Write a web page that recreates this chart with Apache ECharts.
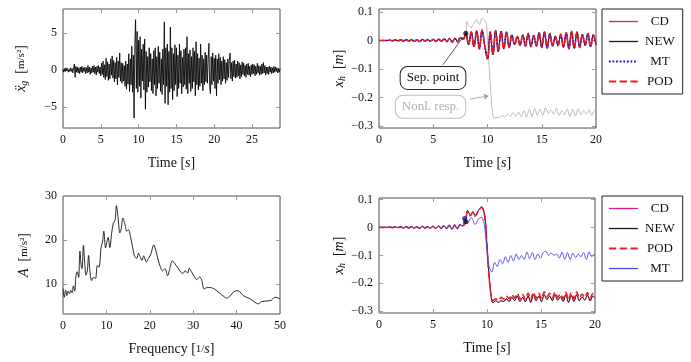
<!DOCTYPE html>
<html>
<head>
<meta charset="utf-8">
<script src="https://cdn.jsdelivr.net/npm/echarts@6/dist/echarts.min.js"></script>
<style>
  html, body { margin: 0; padding: 0; background: #fff; }
  #chart { width: 691px; height: 362px; }
</style>
</head>
<body>
<div id="chart"></div>
<script>
const FONT = "Liberation Serif";

// ground acceleration record, one value every 0.1 s
const ACC_DT = 0.1;
const accValues = [
  0.1,-0.3,0.2,-0.2,0.3,-0.1,0.2,-0.3,0.1,-0.2,
  0.3,-0.2,0.2,-0.4,0.3,0.8,-1.0,0.5,-0.3,0.4,
  -0.4,0.3,-0.5,0.4,-0.3,0.5,-0.4,0.3,-0.2,0.4,
  -0.5,0.3,-0.4,0.6,-0.3,0.4,-0.6,0.3,-0.4,0.5,
  -0.3,0.6,-0.5,0.4,-0.7,0.5,-0.3,0.6,-0.5,0.4,
  -0.8,0.9,-0.6,1.2,-1.0,0.7,-1.3,1.6,-0.9,1.1,
  -1.4,0.8,-1.2,1.5,-0.7,1.9,-1.1,1.3,-1.6,1.0,
  -1.2,1.7,-2.0,1.2,-1.0,2.3,-1.5,1.0,-1.8,0.9,
  -1.5,0.6,-2.2,1.2,-2.6,0.8,-1.9,2.2,-2.9,1.5,
  -2.0,3.2,-3.0,2.0,-6.5,3.6,6.8,-2.5,5.2,-3.0,
  4.0,-2.2,4.5,-3.8,2.8,-1.5,3.5,-2.7,4.2,-5.3,
  2.5,-3.0,1.8,-2.3,3.0,-1.6,2.2,-2.8,1.5,-3.2,
  2.6,-2.0,3.0,-3.5,1.8,-2.5,3.2,-1.8,2.4,-2.9,
  1.5,-3.3,2.8,-2.0,6.5,-4.5,3.0,-2.2,3.5,-4.7,
  2.5,-3.0,5.8,-2.5,3.0,-4.0,2.2,-2.8,3.4,-2.0,
  3.0,-3.6,2.0,-2.5,3.5,-1.8,2.6,-3.2,1.7,-2.3,
  2.8,-2.0,3.0,-2.6,4.5,-3.2,2.2,-1.8,2.7,-2.9,
  1.8,-2.5,3.0,-1.6,2.5,-3.5,3.8,-2.0,2.2,-2.7,
  1.6,-2.2,3.5,-1.8,2.0,-2.8,1.5,-2.0,2.4,-1.6,
  2.0,-1.8,1.5,3.6,-2.2,-3.2,1.8,-2.0,2.3,-1.5,
  1.6,-2.5,2.0,-3.5,1.5,-1.8,2.2,-1.3,1.7,-2.0,
  1.2,-1.5,1.8,-1.2,1.4,-1.8,1.0,-1.4,1.5,-1.0,
  1.3,2.3,-1.2,1.0,-1.5,1.2,-0.9,1.3,-1.1,0.8,
  -1.0,1.2,-0.8,1.0,-1.2,0.7,-0.9,1.1,-0.6,0.9,
  -0.8,0.6,-1.0,0.8,-0.6,0.9,-0.7,0.5,-0.9,0.7,
  -0.6,0.8,-0.5,0.7,-0.8,0.5,-0.6,0.9,-0.4,0.6,
  -0.7,0.5,-0.6,0.8,-0.5,1.0,-0.4,0.6,-0.7,0.4,
  -0.5,0.4,-0.6,0.5,-0.3,0.4,-0.5,0.3,-0.4,0.5,
  -0.3,0.4,-0.2,0.3,-0.4,0.2,-0.3,0.2
];

// Fourier amplitude spectrum
const specFreq = [0,0.3,0.6,0.9,1.2,1.5,1.8,2.1,2.4,2.7,3.0,3.3,3.6,3.9,4.2,4.4,4.7,5.0,5.3,5.6,
  5.9,6.2,6.6,7.0,7.5,7.9,8.3,8.8,9.1,9.4,9.8,10.1,10.4,10.8,11.2,11.6,12.0,12.3,12.7,13.1,
  13.4,13.8,14.3,14.7,15.1,15.6,16.0,16.5,17.0,17.4,17.8,18.2,18.6,19.2,19.7,20.3,20.9,21.4,21.9,22.4,
  22.9,23.5,24.1,24.6,25.2,25.8,26.4,27.0,27.6,28.2,28.7,29.1,29.6,30.2,30.8,31.5,32.0,32.5,33.2,34.0,
  35.0,36.0,37.0,37.7,38.5,39.3,40.0,40.7,41.5,42.3,43.2,44.0,45.0,45.7,46.5,47.3,48.0,48.8,49.4,50.0];
const specAmp = [9.0,7.0,8.6,7.4,8.4,7.8,8.6,8.0,9.6,8.4,12.0,12.8,11.5,17.5,14.0,13.5,18.8,15.0,12.0,13.0,
  16.5,13.0,10.8,11.5,11.3,14.2,13.8,18.5,19.5,22.0,18.2,19.5,20.6,18.3,21.5,23.8,24.5,27.8,25.0,21.6,
  22.5,25.0,23.5,22.0,22.3,20.5,18.5,16.3,15.8,17.0,16.2,15.4,16.4,15.0,15.8,17.0,18.9,17.6,15.6,14.0,
  13.0,13.5,11.9,13.5,15.3,14.6,13.8,12.9,12.4,13.0,12.5,13.6,12.8,11.8,11.0,11.6,10.8,8.9,9.2,9.2,
  8.8,8.0,7.2,6.8,7.3,8.2,8.5,8.3,7.4,7.0,6.6,6.0,5.5,6.0,6.1,6.2,6.3,7.0,6.9,6.6];

// linear responses (top right), one value every 0.25 s
const RESP_DT = 0.25;
const linTop = [
  0,0,0,0,0.001,-0.001,0.002,-0.001,
  0.002,-0.002,0.003,-0.002,0.003,-0.003,0.002,-0.004,
  0.004,-0.002,0.003,-0.003,0.004,-0.004,0.005,-0.003,
  0.006,-0.004,0.007,-0.006,0.008,-0.005,0.010,0.004,
  0.025,-0.015,0.030,-0.022,0.034,-0.030,0.036,-0.020,
  -0.065,0.030,-0.050,0.035,-0.040,0.033,-0.030,0.030,
  -0.025,0.020,-0.015,0.015,-0.018,0.020,-0.020,0.025,
  -0.022,0.018,-0.020,0.028,-0.025,0.030,-0.028,0.025,
  -0.020,0.015,-0.018,0.022,-0.025,0.028,-0.030,0.032,
  -0.028,0.030,-0.025,0.022,-0.018,0.025,-0.022,0.020,
  -0.015
];
const mtTop = [
  0,0,0,0,0.001,-0.001,0.002,-0.001,
  0.002,-0.002,0.003,-0.002,0.003,-0.003,0.002,-0.003,
  0.003,-0.002,0.003,-0.003,0.004,-0.003,0.004,-0.003,
  0.005,-0.004,0.006,-0.005,0.007,-0.004,0.009,0.004,
  0.024,-0.012,0.025,-0.018,0.028,-0.025,0.030,-0.018,
  -0.058,0.025,-0.042,0.028,-0.034,0.027,-0.025,0.025,
  -0.020,0.016,-0.012,0.012,-0.015,0.016,-0.016,0.020,
  -0.018,0.015,-0.016,0.023,-0.020,0.025,-0.023,0.020,
  -0.016,0.012,-0.015,0.018,-0.020,0.023,-0.025,0.026,
  -0.023,0.025,-0.020,0.018,-0.015,0.020,-0.018,0.016,
  -0.012
];
// nonlinear response (grey, top right) from 7.5 s
const nonlTop = [[7.5,0.01],[7.75,0.004],[8.0,0.025],[8.1,0.066],[8.3,0.05],[8.5,0.045],[8.75,0.06],[9.0,0.073],
  [9.25,0.055],[9.5,0.078],[9.75,0.068],[9.9,0.06],[10.0,0.0],[10.2,-0.12],[10.4,-0.23],[10.6,-0.272],
  [10.85,-0.268],[11.1,-0.27],[11.35,-0.262],[11.6,-0.268],[11.85,-0.258],[12.1,-0.266],[12.35,-0.252],[12.6,-0.265],
  [12.85,-0.25],[13.1,-0.266],[13.35,-0.245],[13.6,-0.268],[13.85,-0.24],[14.1,-0.265],[14.35,-0.238],[14.6,-0.262],
  [14.85,-0.24],[15.1,-0.262],[15.35,-0.235],[15.6,-0.255],[15.85,-0.242],[16.1,-0.258],[16.35,-0.236],[16.6,-0.262],
  [16.85,-0.245],[17.1,-0.26],[17.35,-0.24],[17.6,-0.266],[17.85,-0.24],[18.1,-0.265],[18.35,-0.238],[18.6,-0.26],
  [18.85,-0.245],[19.1,-0.258],[19.35,-0.242],[19.6,-0.262],[19.85,-0.245],[20,-0.25]];

// bottom right: after the separation point
const newBotTail = [[8.0,0.02],[8.2,0.06],[8.45,0.045],[8.7,0.055],[8.9,0.042],[9.2,0.06],[9.5,0.073],[9.7,0.06],
  [9.85,0.02],[10.05,-0.1],[10.3,-0.22],[10.55,-0.27],[10.8,-0.262],[11.05,-0.268],[11.3,-0.262],[11.55,-0.265],
  [11.8,-0.255],[12.05,-0.265],[12.3,-0.25],[12.55,-0.262],[12.8,-0.245],[13.05,-0.265],[13.3,-0.25],[13.55,-0.266],
  [13.8,-0.245],[14.05,-0.268],[14.3,-0.24],[14.55,-0.262],[14.8,-0.245],[15.05,-0.265],[15.3,-0.24],[15.55,-0.258],
  [15.8,-0.245],[16.05,-0.262],[16.3,-0.24],[16.55,-0.26],[16.8,-0.248],[17.05,-0.265],[17.3,-0.24],[17.55,-0.268],
  [17.8,-0.243],[18.05,-0.265],[18.3,-0.24],[18.55,-0.262],[18.8,-0.248],[19.05,-0.26],[19.3,-0.242],[19.55,-0.263],
  [19.8,-0.245],[20,-0.252]];
const podBotTail = [[8.0,0.02],[8.2,0.058],[8.45,0.042],[8.7,0.055],[8.9,0.04],[9.2,0.058],[9.5,0.072],[9.7,0.058],
  [9.85,0.02],[10.05,-0.1],[10.3,-0.22],[10.55,-0.262],[10.8,-0.255],[11.05,-0.26],[11.3,-0.25],[11.55,-0.256],
  [11.8,-0.245],[12.05,-0.255],[12.3,-0.24],[12.55,-0.252],[12.8,-0.236],[13.05,-0.255],[13.3,-0.24],[13.55,-0.256],
  [13.8,-0.235],[14.05,-0.258],[14.3,-0.232],[14.55,-0.252],[14.8,-0.236],[15.05,-0.255],[15.3,-0.23],[15.55,-0.248],
  [15.8,-0.236],[16.05,-0.252],[16.3,-0.232],[16.55,-0.25],[16.8,-0.238],[17.05,-0.255],[17.3,-0.232],[17.55,-0.258],
  [17.8,-0.234],[18.05,-0.255],[18.3,-0.23],[18.55,-0.252],[18.8,-0.238],[19.05,-0.25],[19.3,-0.233],[19.55,-0.253],
  [19.8,-0.236],[20,-0.244]];
const mtBotTail = [[7.9,0.03],[8.2,0.015],[8.55,0.036],[8.9,0.01],[9.2,0.03],[9.5,0.036],[9.75,0.01],[9.95,-0.06],
  [10.2,-0.14],[10.45,-0.16],[10.7,-0.125],[10.95,-0.14],[11.2,-0.115],[11.45,-0.13],[11.7,-0.105],[11.95,-0.125],
  [12.2,-0.1],[12.45,-0.12],[12.7,-0.095],[12.95,-0.115],[13.2,-0.1],[13.45,-0.115],[13.7,-0.088],[13.95,-0.112],
  [14.2,-0.09],[14.45,-0.115],[14.7,-0.095],[14.95,-0.11],[15.2,-0.09],[15.45,-0.085],[15.7,-0.1],[15.95,-0.092],
  [16.2,-0.1],[16.45,-0.095],[16.7,-0.11],[16.95,-0.088],[17.2,-0.115],[17.45,-0.09],[17.7,-0.115],[17.95,-0.092],
  [18.2,-0.108],[18.45,-0.095],[18.7,-0.105],[18.95,-0.09],[19.2,-0.115],[19.45,-0.088],[19.7,-0.105],[19.95,-0.095]];

// separation points
const sepTop = [[8.0, 0.025]];
const sepBotMT = [[7.93, 0.032]];
const sepBotNew = [[8.05, 0.02]];

// axis ticks
const ticksAccX = [0, 5, 10, 15, 20, 25];
const ticksAccY = [-5, 0, 5];
const ticksTimeX = [0, 5, 10, 15, 20];
const ticksRespY = [-0.3, -0.2, -0.1, 0, 0.1];
const ticksFreqX = [0, 10, 20, 30, 40, 50];
const ticksAmpY = [10, 20, 30];

const C_CD = "#d81b8c", C_NEW = "#1a1a1a", C_MT = "#1515d0", C_MT2 = "#4a4aee", C_POD = "#ee1c1c", C_NONL = "#b3b3b3";

const withT = (vals) => vals.map((v, i) => [i * RESP_DT, v]);
const preSep = withT(linTop).filter(p => p[0] < 7.9);

const fmtNum = (v) => (v < 0 ? "\u2212" : "") + String(Math.abs(Math.round(v * 100) / 100));

const rich = {
  it: { fontFamily: FONT, fontStyle: "italic", fontSize: 14, color: "#111" },
  sub: { fontFamily: FONT, fontStyle: "italic", fontSize: 10, color: "#111", padding: [6, 0, 0, 0] },
  sm: { fontFamily: FONT, fontSize: 11, color: "#111" }
};

const grids = [
  { left: 63, top: 9, width: 217, height: 119 },
  { left: 379, top: 9, width: 217, height: 119 },
  { left: 63, top: 196, width: 217, height: 118 },
  { left: 379, top: 198, width: 216, height: 115 }
].map(g => Object.assign(g, { show: true, borderColor: "#3a3a3a", borderWidth: 0.9, backgroundColor: "transparent" }));

const tickStyle = (ticks) => ({ inside: true, length: 4, lineStyle: { color: "#9a9a9a" }, customValues: ticks });

function xAxes(gi, min, max, ticks, name) {
  const base = { type: "value", gridIndex: gi, min, max, splitLine: { show: false }, axisLine: { show: false, onZero: false } };
  return [
    Object.assign({}, base, {
      position: "bottom",
      axisTick: tickStyle(ticks),
      axisLabel: { customValues: ticks, formatter: fmtNum, fontFamily: FONT, fontSize: 12, color: "#111", margin: 6 },
      name, nameLocation: "middle", nameGap: 28,
      nameTextStyle: { fontFamily: FONT, fontSize: 14, color: "#111", rich }
    }),
    Object.assign({}, base, { position: "top", axisTick: tickStyle(ticks), axisLabel: { show: false } })
  ];
}
function yAxes(gi, min, max, ticks, name, gap) {
  const base = { type: "value", gridIndex: gi, min, max, splitLine: { show: false }, axisLine: { show: false, onZero: false } };
  return [
    Object.assign({}, base, {
      position: "left",
      axisTick: tickStyle(ticks),
      axisLabel: { customValues: ticks, formatter: fmtNum, fontFamily: FONT, fontSize: 12, color: "#111", margin: 6 },
      name, nameLocation: "middle", nameRotate: 90, nameGap: gap,
      nameTextStyle: { fontFamily: FONT, fontSize: 14, color: "#111", rich }
    }),
    Object.assign({}, base, { position: "right", axisTick: tickStyle(ticks), axisLabel: { show: false } })
  ];
}

const xAxis = [
  ...xAxes(0, 0, 28.7, ticksAccX, "Time [{it|s}]"),
  ...xAxes(1, 0, 20, ticksTimeX, "Time [{it|s}]"),
  ...xAxes(2, 0, 50, ticksFreqX, "Frequency [{sm|1/}{it|s}]"),
  ...xAxes(3, 0, 20, ticksTimeX, "Time [{it|s}]")
];
const yAxis = [
  ...yAxes(0, -7.84, 8.24, ticksAccY, "{it|\u1E8D}{sub|g}  [{sm|m/s\u00B2}]", 34),
  ...yAxes(1, -0.306, 0.11, ticksRespY, "{it|x}{sub|h}  [{it|m}]", 32),
  ...yAxes(2, 3.2, 30, ticksAmpY, "{it|A}  [{sm|m/s\u00B2}]", 32),
  ...yAxes(3, -0.306, 0.105, ticksRespY, "{it|x}{sub|h}  [{it|m}]", 32)
];

function line(name, xi, data, color, width, type, smooth) {
  return {
    name, type: "line", xAxisIndex: xi, yAxisIndex: xi, data, showSymbol: false, symbol: "none",
    smooth: smooth || false, lineStyle: { color, width, type: type || "solid" }, itemStyle: { color },
    silent: true, z: 2
  };
}
function dot(xi, data, color) {
  return { type: "scatter", xAxisIndex: xi, yAxisIndex: xi, data, symbolSize: 5, itemStyle: { color }, silent: true, z: 5 };
}

const nonl = line("Nonl", 2, nonlTop, C_NONL, 0.9, "solid", 0.3);
nonl.markPoint = {
  silent: true, symbol: "rect", symbolSize: 1, itemStyle: { color: "rgba(0,0,0,0)" },
  data: [
    { coord: [4.98, -0.131], label: { show: true, position: "inside", formatter: "Sep. point", fontFamily: FONT, fontSize: 13, color: "#111",
      backgroundColor: "#fff", borderColor: "#222", borderWidth: 1, borderRadius: 7, padding: [5, 6, 4, 6] } },
    { coord: [4.75, -0.232], label: { show: true, position: "inside", formatter: "Nonl. resp.", fontFamily: FONT, fontSize: 13, color: "#b0b0b0",
      backgroundColor: "#fff", borderColor: "#bdbdbd", borderWidth: 1, borderRadius: 7, padding: [5, 6, 4, 6] } }
  ]
};
nonl.markLine = {
  silent: true, animation: false, label: { show: false }, symbol: ["none", "none"],
  data: [
    [{ coord: [5.9, -0.085], lineStyle: { color: "#333", width: 0.8, type: "solid" } }, { coord: [7.75, 0.012] }],
    [{ coord: [8.4, -0.205], lineStyle: { color: "#9a9a9a", width: 0.8, type: "solid" }, symbol: "none" },
     { coord: [10.1, -0.194], symbol: "arrow", symbolSize: 5 }]
  ]
};

const series = [
  line("acc", 0, accValues.map((v, i) => [i * ACC_DT, v]), "#000", 0.85),
  line("spec", 4, specFreq.map((f, i) => [f, specAmp[i]]), "#111", 0.9, "solid", 0.3),
  nonl,
  line("CD", 2, withT(linTop), C_CD, 0.9, "solid", 0.4),
  line("NEW", 2, withT(linTop), C_NEW, 0.9, "solid", 0.4),
  line("MT", 2, withT(mtTop), C_MT, 1.6, "dotted", 0.4),
  line("POD", 2, withT(linTop), C_POD, 1.6, "dashed", 0.4),
  dot(2, sepTop, "#111"),
  line("CD ", 6, preSep.concat(newBotTail), C_CD, 0.9, "solid", 0.3),
  line("NEW ", 6, preSep.concat(newBotTail), C_NEW, 0.9, "solid", 0.3),
  line("POD ", 6, preSep.concat(podBotTail), C_POD, 1.6, "dashed", 0.3),
  line("MT ", 6, preSep.concat(mtBotTail), C_MT2, 0.9, "solid", 0.3),
  dot(6, sepBotMT, "#1515d0"),
  dot(6, sepBotNew, "#111")
];

// legend entries: [name, colour, width, dash]
function legend(top, items) {
  return {
    left: 602, top, orient: "vertical", selectedMode: false,
    data: items.map(([name, color, width, type]) => ({ name, lineStyle: { color, width, type } })),
    itemWidth: 29, itemHeight: 12, itemGap: 7, padding: [6, 8, 6, 6],
    borderColor: "#222", borderWidth: 1, backgroundColor: "#fff",
    itemStyle: { opacity: 0 },
    formatter: (n) => "{t|" + n.trim() + "}",
    textStyle: { rich: { t: { width: 34, align: "center", fontFamily: FONT, fontSize: 13, color: "#111" } } }
  };
}

const chart = echarts.init(document.getElementById("chart"));
chart.setOption({
  animation: false,
  textStyle: { fontFamily: FONT },
  grid: grids,
  xAxis,
  yAxis,
  legend: [
    legend(9, [["CD", C_CD, 1.3, "solid"], ["NEW", C_NEW, 1.3, "solid"], ["MT", C_MT, 1.8, "dotted"], ["POD", C_POD, 1.8, "dashed"]]),
    legend(196, [["CD ", C_CD, 1.3, "solid"], ["NEW ", C_NEW, 1.3, "solid"], ["POD ", C_POD, 1.8, "dashed"], ["MT ", C_MT2, 1.3, "solid"]])
  ],
  series
});
</script>
</body>
</html>
